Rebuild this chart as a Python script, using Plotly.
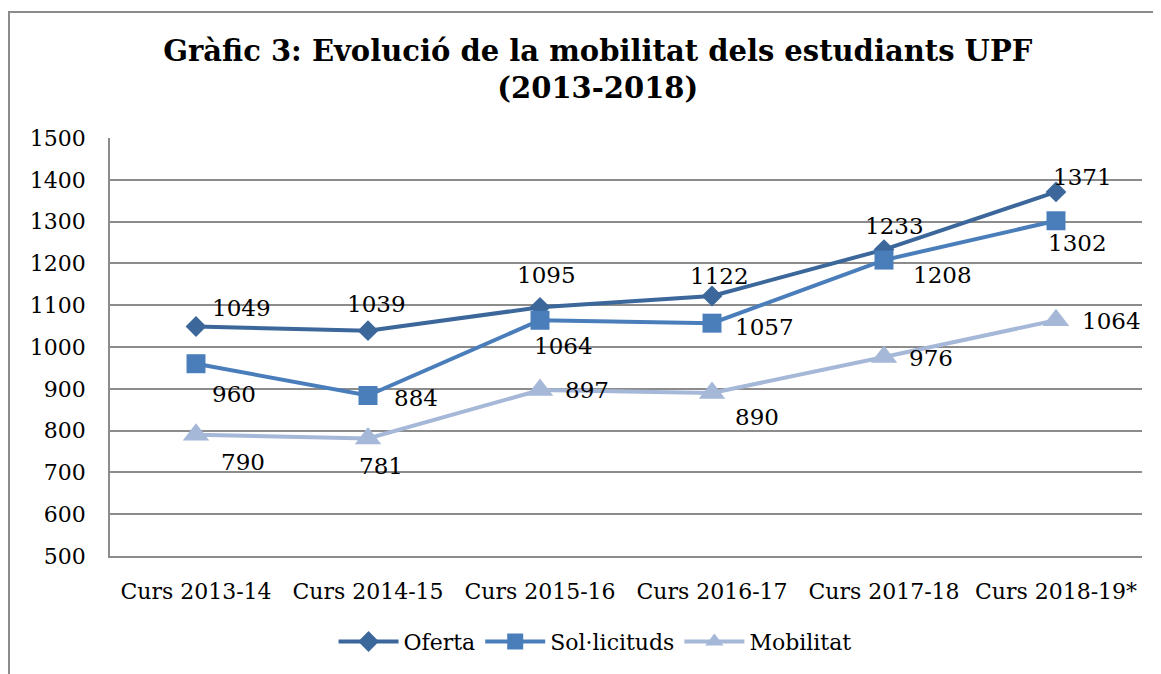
import plotly.graph_objects as go

categories = ["Curs 2013-14", "Curs 2014-15", "Curs 2015-16", "Curs 2016-17", "Curs 2017-18", "Curs 2018-19*"]
oferta = [1049, 1039, 1095, 1122, 1233, 1371]
sollicituds = [960, 884, 1064, 1057, 1208, 1302]
mobilitat = [790, 781, 897, 890, 976, 1064]

# label offsets in pixels (dx, dy) for each point, y positive = up
off_oferta = [(45, 19), (8, 27), (6, 32), (7, 20), (10, 24), (26, 15)]
off_soll = [(38, -30), (48, -3), (23, -26), (52, -4), (58, -15), (21, -22)]
off_mob = [(47, -27), (13, -27), (47, 0), (45, -24), (47, -1), (55, -1)]

FONT = "DejaVu Serif"
c_of = "#3C679A"
c_so = "#4A7EBB"
c_mo = "#A5B8D8"

# page is offset by 8px body margin; plot area in page coords: x 110..1142, y 138..556
L, T, W, H = 102, 130, 1032, 418

fig = go.Figure()
fig.add_trace(go.Scatter(x=categories, y=oferta, name="Oferta", mode="lines+markers",
                         line=dict(color=c_of, width=4),
                         marker=dict(symbol="diamond", size=16, color=c_of)))
fig.add_trace(go.Scatter(x=categories, y=sollicituds, name="Sol·licituds", mode="lines+markers",
                         line=dict(color=c_so, width=4),
                         marker=dict(symbol="square", size=19, color=c_so)))
fig.add_trace(go.Scatter(x=categories, y=mobilitat, name="Mobilitat", mode="lines+markers",
                         line=dict(color=c_mo, width=4),
                         marker=dict(symbol="triangle-up", size=23, color=c_mo)))

for vals, offs in [(oferta, off_oferta), (sollicituds, off_soll), (mobilitat, off_mob)]:
    for c, v, (dx, dy) in zip(categories, vals, offs):
        fig.add_annotation(x=c, y=v, text=str(v), showarrow=False, xshift=dx, yshift=dy,
                           font=dict(family=FONT, size=23, color="black"))

# outer frame (figure coords -> paper)
fig.add_shape(type="rect", xref="paper", yref="paper",
              x0=(1 - L) / W, x1=(1200 - L) / W,
              y0=-(700 - (T + H)) / H, y1=1 + (T - 4) / H,
              line=dict(color="#8C8C8C", width=2), fillcolor="rgba(0,0,0,0)")

fig.update_layout(
    width=1161, height=674,
    margin=dict(l=L, r=1161 - L - W, t=T, b=674 - T - H, autoexpand=False),
    paper_bgcolor="white", plot_bgcolor="white",
    font=dict(family=FONT, size=20, color="black"),
    title=dict(text="<b>Gràfic 3: Evolució de la mobilitat dels estudiants UPF<br>(2013-2018)</b>",
               x=0.508, xanchor="center", y=0.922, yanchor="top",
               font=dict(family=FONT, size=29, color="black")),
    showlegend=True,
    legend=dict(orientation="h", x=0.47, xanchor="center", y=-0.205, yanchor="middle",
                font=dict(family=FONT, size=22), itemwidth=60),
)
fig.update_xaxes(range=[-0.5, 5.5], showgrid=False, showline=True, linecolor="#8C8C8C", linewidth=1.5,
                 ticks="", ticklabelstandoff=15,
                 tickfont=dict(family=FONT, size=22))
fig.update_yaxes(range=[500, 1500], dtick=100, showgrid=True, gridcolor="#8C8C8C", gridwidth=1.5,
                 showline=True, linecolor="#8C8C8C", linewidth=1.5, ticks="",
                 ticklabelstandoff=18, tickfont=dict(family=FONT, size=22), zeroline=False)

fig.write_html("out.html")
